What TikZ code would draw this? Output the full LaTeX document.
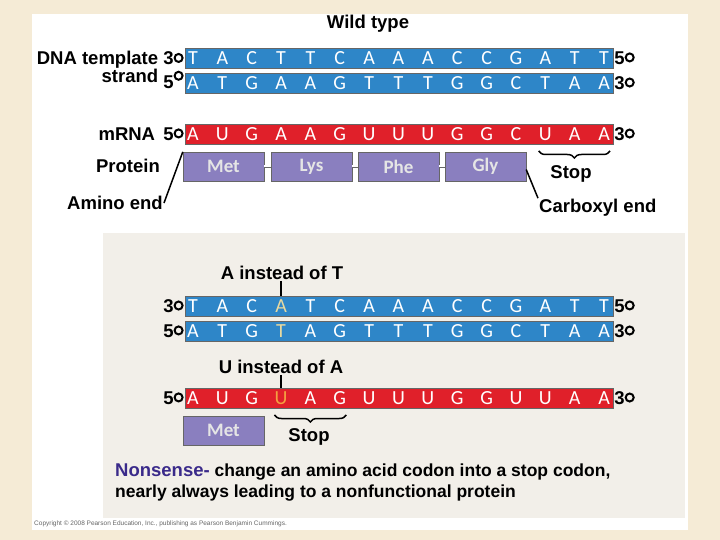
\documentclass[tikz,border=0pt]{standalone}
\usepackage{fontspec}
\setmainfont{Liberation Sans}
\newfontfamily\basefont{Carlito}
\usetikzlibrary{positioning,decorations.pathreplacing}
\definecolor{dnablue}{HTML}{2E86C8}
\definecolor{rnared}{HTML}{E0202A}
\definecolor{protpurple}{HTML}{8A7FBF}
\definecolor{notepurple}{HTML}{3A2A8A}
\definecolor{paper}{HTML}{F5EBD6}
\definecolor{panel}{HTML}{F2EFE9}
\definecolor{hiyellow}{HTML}{E8D9A0}
\definecolor{hiorange}{HTML}{F4A040}
\newcommand\primeo{\tikz[baseline=-0.7ex]\draw[line width=2pt] (0,0) circle (4pt);}
\tikzset{
  strand/.style={draw=black!60, minimum width=428pt, minimum height=20pt, inner sep=0pt},
  base/.style={font=\basefont\fontsize{20}{20}\selectfont, text=white, inner sep=0pt},
  lab/.style={font=\bfseries\fontsize{18.5}{20}\selectfont, inner sep=1pt},
  amino/.style={draw=black!60, fill=protpurple, minimum width=81pt, minimum height=29pt,
    font=\basefont\bfseries\fontsize{19}{19}\selectfont, text=white!90!black},
  link/.style={draw=black!60, double=white, double distance=2pt, line width=0.5pt},
  stopbrace/.style={decorate, decoration={brace, mirror, amplitude=7pt}, line width=1.5pt}
}
\begin{document}
\begin{tikzpicture}[x=1pt,y=-1pt]
\fill[paper] (0,0) rectangle (720,540);
\fill[white] (32,14) rectangle (688,530);
\fill[panel] (103,233) rectangle (685,518);
\node[lab] (title) at (368,24) {Wild type};
% wild type DNA
\node[strand, fill=dnablue] (w1) at (399,58) {};
\node[strand, fill=dnablue] (w2) at (399,83) {};
\node[strand, fill=rnared] (wm) at (399,134) {};
\foreach \l [count=\i] in {T,A,C,T,T,C,A,A,A,C,C,G,A,T,T}
  \node[base] (wa\i) at (193+29.36*\i-29.36,58) {\l};
\foreach \l [count=\i] in {A,T,G,A,A,G,T,T,T,G,G,C,T,A,A}
  \node[base] (wb\i) at (193+29.36*\i-29.36,83) {\l};
\foreach \l [count=\i] in {A,U,G,A,A,G,U,U,U,G,G,C,U,A,A}
  \node[base] (wc\i) at (193+29.36*\i-29.36,134) {\l};
\node[lab, anchor=east] (w1l) at ([yshift=-2pt]w1.west) {DNA template 3\primeo};
\node[lab, anchor=east] (w2l) at ([yshift=4pt]w2.west) {strand \raisebox{-6pt}{5}\primeo};
\node[lab, anchor=east] (wml) at (wm.west) {mRNA\, 5\primeo};
\node[lab, anchor=west] (w1r) at (w1.east) {5\primeo};
\node[lab, anchor=west] (w2r) at (w2.east) {3\primeo};
\node[lab, anchor=west] (wmr) at (wm.east) {3\primeo};
% protein
\node[amino] (met) at (223.5,166.5) {Met};
\node[amino] (lys) at (311.5,166.5) {Lys};
\node[amino] (phe) at (398.5,166.5) {Phe};
\node[amino] (gly) at (485.5,166.5) {Gly};
\draw[link] (met) -- (lys);
\draw[link] (lys) -- (phe);
\draw[link] (phe) -- (gly);
\node[lab] (prot) at (128,166) {Protein};
\draw[stopbrace] ([yshift=-17pt]wc13.west) -- ([yshift=-17pt]wc15.east);
\node[lab] (stop1) at (571,174) {Stop};
\node[lab] (amend) at (115,203) {Amino end};
\draw[line width=1.5pt] (met.north west) -- (amend.east);
\node[lab, anchor=west] (carb) at (538,208) {Carboxyl end};
\draw[line width=1.5pt] ([yshift=-3pt]gly.east) -- (carb.north west);
% mutant
\node[strand, fill=dnablue] (m1) at (399,306) {};
\node[strand, fill=dnablue] (m2) at (399,331) {};
\node[strand, fill=rnared] (mm) at (399,398) {};
\foreach \l/\c [count=\i] in {T/white,A/white,C/white,A/hiyellow,T/white,C/white,A/white,A/white,A/white,C/white,C/white,G/white,A/white,T/white,T/white}
  \node[base, text=\c] (ma\i) at (193+29.36*\i-29.36,306) {\l};
\foreach \l/\c [count=\i] in {A/white,T/white,G/white,T/hiyellow,A/white,G/white,T/white,T/white,T/white,G/white,G/white,C/white,T/white,A/white,A/white}
  \node[base, text=\c] (mb\i) at (193+29.36*\i-29.36,331) {\l};
\foreach \l/\c [count=\i] in {A/white,U/white,G/white,U/hiorange,A/white,G/white,U/white,U/white,U/white,G/white,G/white,U/white,U/white,A/white,A/white}
  \node[base, text=\c] (mc\i) at (193+29.36*\i-29.36,398) {\l};
\node[lab, anchor=east] (m1l) at (m1.west) {3\primeo};
\node[lab, anchor=east] (m2l) at (m2.west) {5\primeo};
\node[lab, anchor=east] (mml) at (mm.west) {5\primeo};
\node[lab, anchor=west] (m1r) at (m1.east) {5\primeo};
\node[lab, anchor=west] (m2r) at (m2.east) {3\primeo};
\node[lab, anchor=west] (mmr) at (mm.east) {3\primeo};
\node[lab] (insT) at (282,273) {A instead of T};
\draw[line width=1.5pt] (insT.south -| ma4) -- (m1.north -| ma4);
\node[lab] (insA) at (281,367) {U instead of A};
\draw[line width=1.5pt] (insA.south -| mc4) -- (mm.north -| mc4);
\node[amino] (met2) at (223.5,430.5) {Met};
\draw[stopbrace] ([yshift=-17pt]mc4.west) -- ([yshift=-17pt]mc6.east);
\node[lab] (stop2) at (309,437) {Stop};
\node[anchor=west, align=left, font=\bfseries\fontsize{17.5}{21}\selectfont, inner sep=0pt] (note) at (115,482)
  {\textcolor{notepurple}{\fontsize{18.5}{21}\selectfont Nonsense-} change an amino acid codon into a stop codon,\\nearly always leading to a nonfunctional protein};
\node[anchor=west, font=\fontsize{6.5}{7}\selectfont, text=black!60, inner sep=0pt] (copy) at (34,524)
  {Copyright \textcopyright\ 2008 Pearson Education, Inc., publishing as Pearson Benjamin Cummings.};
\end{tikzpicture}
\end{document}
